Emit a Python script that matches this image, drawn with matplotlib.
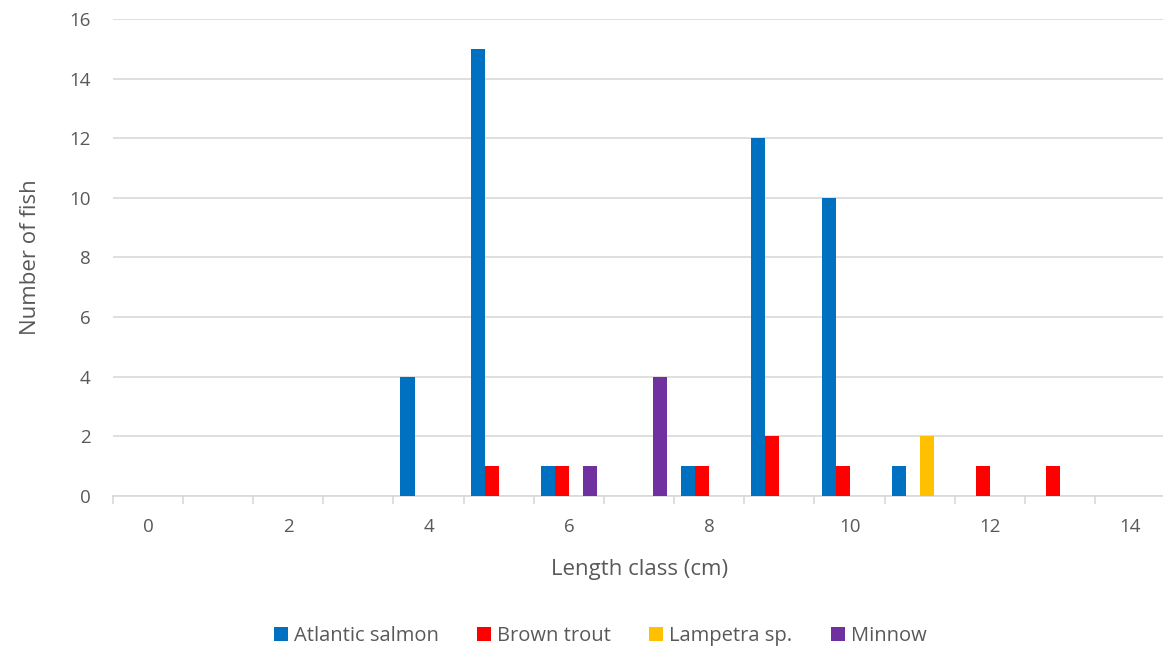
import matplotlib.pyplot as plt
import numpy as np

plt.rcParams['font.family'] = ['Open Sans', 'DejaVu Sans']

# Data
length_classes = list(range(15))
series_names = ["Atlantic salmon", "Brown trout", "Lampetra sp.", "Minnow"]
atlantic_salmon = [0, 0, 0, 0, 4, 15, 1, 0, 1, 12, 10, 1, 0, 0, 0]
brown_trout = [0, 0, 0, 0, 0, 1, 1, 0, 1, 2, 1, 0, 1, 1, 0]
lampetra = [0, 0, 0, 0, 0, 0, 0, 0, 0, 0, 0, 2, 0, 0, 0]
minnow = [0, 0, 0, 0, 0, 0, 1, 4, 0, 0, 0, 0, 0, 0, 0]
colors = ["#0070C0", "#FF0000", "#FFC000", "#7030A0"]

text_col = "#595959"
grid_col = "#D9D9D9"

fig = plt.figure(figsize=(11.63, 6.51), dpi=100)
ax = fig.add_axes([0.097, 0.238, 0.905, 0.733])

x = np.array(length_classes)
w = 0.2
for i, (vals, name, c) in enumerate(zip([atlantic_salmon, brown_trout, lampetra, minnow], series_names, colors)):
    ax.bar(x + (i - 1.5) * w, vals, width=w, color=c, label=name, zorder=3)

ax.set_xlim(-0.5, 14.5)
ax.set_ylim(0, 16)
ax.set_yticks(range(0, 17, 2))
ax.set_xticks(range(0, 15, 2))
ax.set_xticks(np.arange(-0.5, 15, 1), minor=True)
ax.tick_params(axis='x', which='major', length=0, pad=16, labelsize=13.5, labelcolor=text_col)
ax.tick_params(axis='x', which='minor', length=6, color=grid_col, width=1.2)
ax.tick_params(axis='y', length=0, pad=16, labelsize=13.5, labelcolor=text_col)

ax.grid(axis='y', color=grid_col, linewidth=1.2, zorder=0)
for s in ['top', 'right', 'left']:
    ax.spines[s].set_visible(False)
ax.spines['bottom'].set_color(grid_col)
ax.spines['bottom'].set_linewidth(1.2)

ax.set_xlabel("Length class (cm)", fontsize=16, color=text_col, labelpad=16)
ax.set_ylabel("Number of fish", fontsize=16, color=text_col, labelpad=20)

fig.legend(loc='lower center', bbox_to_anchor=(0.516, -0.02), ncol=4, frameon=False,
           fontsize=14.5, labelcolor=text_col, handlelength=0.7, handleheight=0.7,
           handletextpad=0.3, columnspacing=1.9)

fig.savefig("out.png", dpi=100)
